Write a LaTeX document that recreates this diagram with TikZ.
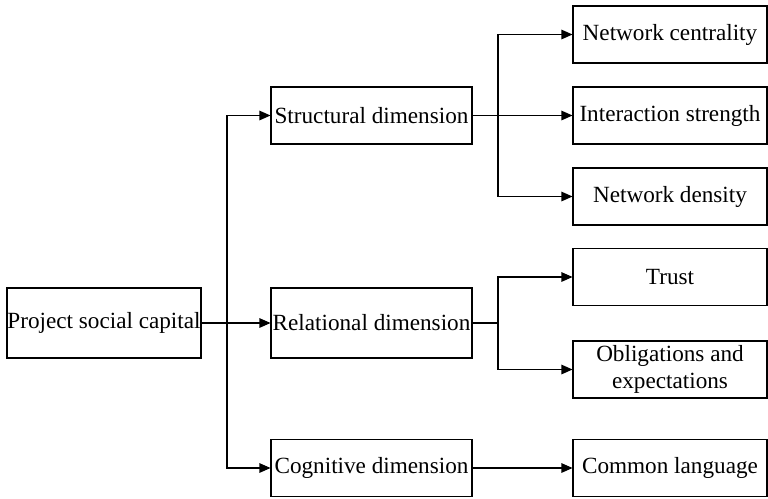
\documentclass[tikz,border=0pt]{standalone}
\usepackage{fontspec}
\setmainfont{Liberation Serif}
\usetikzlibrary{arrows.meta}

\begin{document}
\begin{tikzpicture}[x=0.02cm,y=-0.02cm,line width=0.6pt,
  box/.style={draw,minimum width=4.02cm,minimum height=1.14cm,inner sep=0pt,
    font=\fontsize{13.2}{15}\selectfont,align=center},
  leaf/.style={box,minimum width=3.88cm},
  arr/.style={-{Triangle[length=0.22cm,width=0.19cm]}}]
\useasboundingbox (0,0) rectangle (768,498);
\node [box,minimum width=3.88cm,minimum height=1.4cm] (psc) at (104,323) {Project social capital};
\node [box] (struct) at (371.5,115.5) {Structural dimension};
\node [box,minimum height=1.4cm] (rel) at (371.5,323) {Relational dimension};
\node [box] (cog) at (371.5,468) {Cognitive dimension};
  \foreach \name/\ypos/\txt in {cent/34.5/Network centrality,inter/115.5/Interaction strength,
    dens/196.5/Network density,trust/277/Trust,oblig/369.5/{Obligations and\\expectations},
    lang/468/Common language}
  {  \node [leaf] (\name) at (670,\ypos) {\txt};}
\coordinate (b1) at (227,0);
\coordinate (b2) at (498,0);
\draw [arr] (psc) -- (rel);
\draw [arr] (psc.east -| b1) |- (struct);
\draw [arr] (psc.east -| b1) |- (cog);
\draw [arr] (struct) -- (inter);
\draw [arr] (struct.east -| b2) |- (cent);
\draw [arr] (struct.east -| b2) |- (dens);
\draw (rel) -- (rel.east -| b2);
\draw [arr] (rel.east -| b2) |- (trust);
\draw [arr] (rel.east -| b2) |- (oblig);
\draw [arr] (cog) -- (lang);
\end{tikzpicture}
\end{document}
